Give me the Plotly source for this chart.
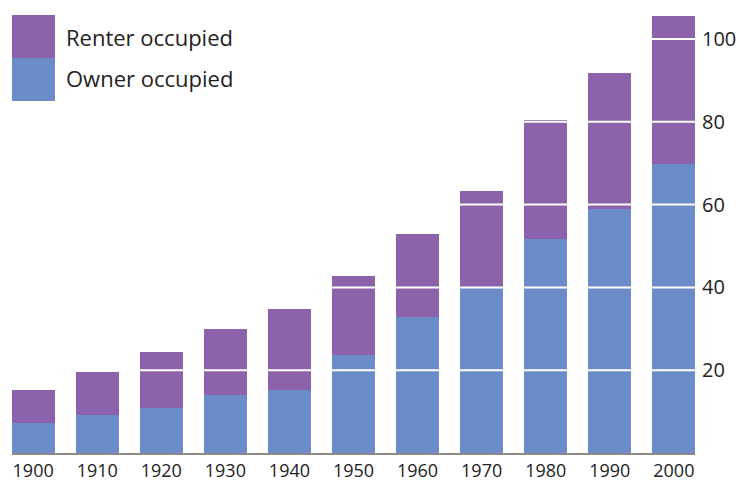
import plotly.graph_objects as go

years = ["1900", "1910", "1920", "1930", "1940", "1950", "1960", "1970", "1980", "1990", "2000"]
owner = [7.2, 9.1, 10.9, 14.0, 15.2, 23.6, 32.8, 39.9, 51.8, 59.0, 69.8]
renter = [8.0, 10.5, 13.5, 15.9, 19.7, 19.2, 20.2, 23.5, 28.6, 32.9, 35.7]
y_ticks = [20, 40, 60, 80, 100]
y_tick_text = ["20", "40", "60", "80", "100"]

BLUE = "#6b8cc8"
PURPLE = "#8c62aa"
FONT = "Open Sans"

fig = go.Figure()
fig.add_trace(go.Bar(x=years, y=owner, name="Owner occupied", marker=dict(color=BLUE, line=dict(width=0))))
fig.add_trace(go.Bar(x=years, y=renter, name="Renter occupied", marker=dict(color=PURPLE, line=dict(width=0))))

shapes = []
for v in y_ticks:
    shapes.append(dict(type="line", xref="paper", yref="y", x0=0, x1=1, y0=v, y1=v,
                       line=dict(color="white", width=2), layer="above"))

PH = 443.0
PW = 683.0
# legend swatches (paper coords; plot top at screen y=10)
shapes.append(dict(type="rect", xref="paper", yref="paper", x0=0, x1=43/PW, y0=1 - (15-10)/PH, y1=1 - (58-10)/PH,
                   fillcolor=PURPLE, line=dict(width=0), layer="above"))
shapes.append(dict(type="rect", xref="paper", yref="paper", x0=0, x1=43/PW, y0=1 - (58-10)/PH, y1=1 - (101-10)/PH,
                   fillcolor=BLUE, line=dict(width=0), layer="above"))

annotations = [
    dict(text="Renter occupied", xref="paper", yref="paper", x=52/PW, y=1 - (37-10)/PH,
         xanchor="left", yanchor="middle", showarrow=False, font=dict(family=FONT, size=22, color="#222")),
    dict(text="Owner occupied", xref="paper", yref="paper", x=52/PW, y=1 - (78-10)/PH,
         xanchor="left", yanchor="middle", showarrow=False, font=dict(family=FONT, size=22, color="#222")),
]

fig.update_layout(
    barmode="stack",
    bargap=0.33,
    width=744, height=481,
    margin=dict(l=4, r=57, t=2, b=36),
    plot_bgcolor="white", paper_bgcolor="white",
    showlegend=False,
    shapes=shapes,
    annotations=annotations,
    font=dict(family=FONT, size=18, color="#222"),
    xaxis=dict(type="category", range=[-0.33, 10.33], showgrid=False, showline=True,
               linecolor="#8a8a8a", linewidth=2, ticks="", tickfont=dict(size=18), ticklabelstandoff=0),
    yaxis=dict(side="right", range=[0, 107], tickvals=y_ticks, ticktext=y_tick_text,
               showgrid=False, zeroline=False, showline=False, ticks="", tickfont=dict(size=20),
               ticklabelstandoff=6),
)

fig.write_html("out.html")
